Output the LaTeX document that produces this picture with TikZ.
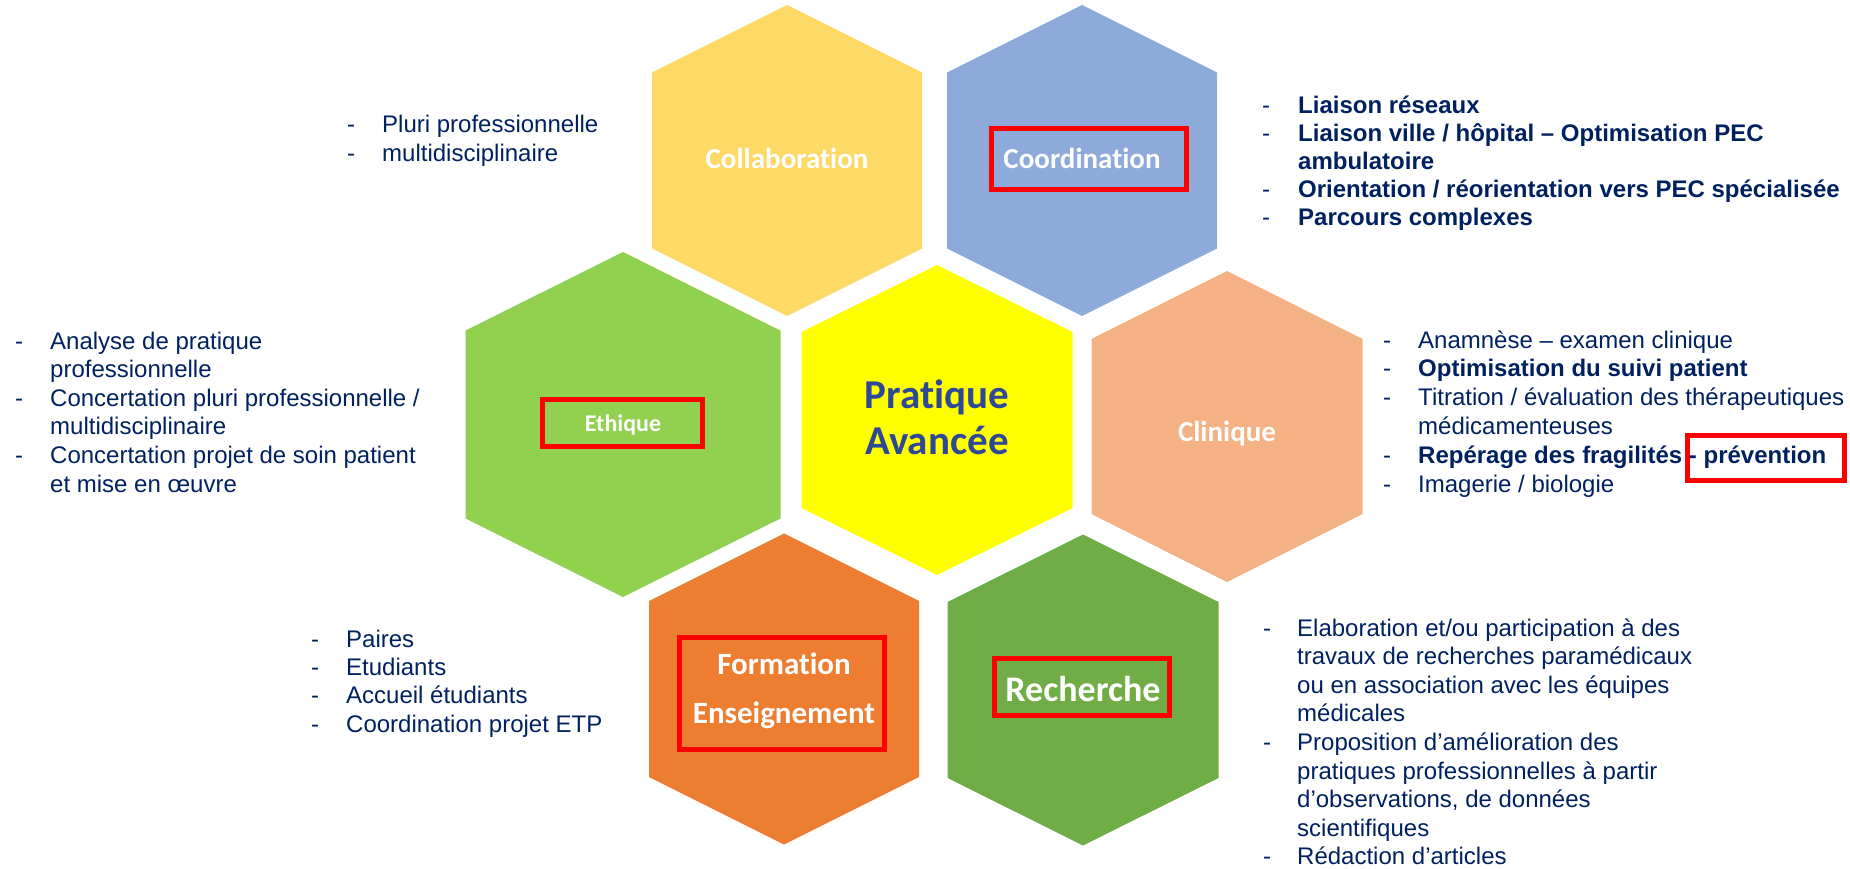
\documentclass[tikz,border=0pt]{standalone}
\usepackage{fontspec}
\setmainfont{Liberation Sans}
\newfontfamily\calibri[Ligatures=NoCommon]{Carlito}
\definecolor{txtnavy}{RGB}{0,32,96}
\definecolor{pablue}{RGB}{47,72,150}
\definecolor{hcollab}{RGB}{255,217,102}
\definecolor{hcoord}{RGB}{142,170,219}
\definecolor{hethique}{RGB}{146,208,80}
\definecolor{hcenter}{RGB}{255,255,0}
\definecolor{hclin}{RGB}{244,177,131}
\definecolor{hform}{RGB}{237,125,49}
\definecolor{hrech}{RGB}{112,173,71}
\definecolor{boxred}{RGB}{255,0,0}
\newcommand\hexa[6]{\fill[#6] (#1,#2-#4) -- (#1+#3,#2-#5) -- (#1+#3,#2+#5) -- (#1,#2+#4) -- (#1-#3,#2+#5) -- (#1-#3,#2-#5) -- cycle;}
\tikzset{
  hexlabel/.style={anchor=base, inner sep=0, text=white, font=\calibri\bfseries\fontsize{#1}{#1}\selectfont},
  listblock/.style={anchor=base west, inner sep=0, text=txtnavy, font=\fontsize{24}{#1}\selectfont},
  redbox/.style={draw=boxred, line width=5pt}
}
\begin{document}
\begin{tikzpicture}[x=1pt,y=-1pt]
\useasboundingbox (0,0) rectangle (1850,869);
% hexagons
\hexa{787}{160.5}{135}{155.5}{88}{hcollab}
\hexa{1082}{160.5}{135}{155.5}{88}{hcoord}
\hexa{623}{424.5}{157.5}{172.5}{94}{hethique}
\hexa{937}{420}{135.5}{155}{88}{hcenter}
\hexa{1227}{426.5}{135.5}{155.5}{87.5}{hclin}
\hexa{784}{689}{135}{155.5}{88}{hform}
\hexa{1083}{690}{135.5}{155.5}{88}{hrech}
% hexagon labels
\node[hexlabel=29] (collab) at (787,169) {Collaboration};
\node[hexlabel=29] (coord) at (1082,169) {Coordination};
\node[hexlabel=29] (clin) at (1227,441) {Clinique};
\node[hexlabel=24] (ethique) at (623,431) {Ethique};
\node[hexlabel=36] (rech) at (1083,701) {Recherche};
\node[anchor=base, inner sep=0, text=white, font=\calibri\bfseries\fontsize{31}{49}\selectfont] (form) at (784,674) {\begin{tabular}[t]{@{}c@{}}Formation\\Enseignement\end{tabular}};
\node[anchor=base, inner sep=0, text=pablue, font=\calibri\bfseries\fontsize{41}{46}\selectfont] (pa) at (937,408) {\begin{tabular}[t]{@{}c@{}}Pratique\\Avancée\end{tabular}};
% red boxes
\draw[redbox] (991.5,128.5) rectangle (1186.5,189.5);
\draw[redbox] (542.5,399.5) rectangle (702.5,446.5);
\draw[redbox] (679.5,637.5) rectangle (884.5,749.5);
\draw[redbox] (994.5,658.5) rectangle (1169.5,715.5);
\draw[redbox] (1687.5,435.5) rectangle (1844.5,480.5);
% lists
\node[listblock=28.6] (lcollab) at (347,133) {\begin{tabular}[t]{@{}p{35pt}@{}l@{}}
-&Pluri professionnelle\\
-&multidisciplinaire\end{tabular}};
\node[listblock=28] (lcoord) at (1262,114) {\begin{tabular}[t]{@{}p{36pt}@{}l@{}}
-&\textbf{Liaison réseaux}\\
-&\textbf{Liaison ville / hôpital -- Optimisation PEC}\\
&\textbf{ambulatoire}\\
-&\textbf{Orientation / réorientation vers PEC spécialisée}\\
-&\textbf{Parcours complexes}\end{tabular}};
\node[listblock=28.6] (lethique) at (15,349) {\begin{tabular}[t]{@{}p{35pt}@{}l@{}}
-&Analyse de pratique\\
&professionnelle\\
-&Concertation pluri professionnelle /\\
&multidisciplinaire\\
-&Concertation projet de soin patient\\
&et mise en œuvre\end{tabular}};
\node[listblock=28.8] (lclin) at (1383,348) {\begin{tabular}[t]{@{}p{35pt}@{}l@{}}
-&Anamnèse -- examen clinique\\
-&\textbf{Optimisation du suivi patient}\\
-&Titration / évaluation des thérapeutiques\\
&médicamenteuses\\
-&\textbf{Repérage des fragilités - prévention}\\
-&Imagerie / biologie\end{tabular}};
\node[listblock=28.4] (lform) at (311,647) {\begin{tabular}[t]{@{}p{35pt}@{}l@{}}
-&Paires\\
-&Etudiants\\
-&Accueil étudiants\\
-&Coordination projet ETP\end{tabular}};
\node[listblock=28.6] (lrech) at (1263,636) {\begin{tabular}[t]{@{}p{34pt}@{}l@{}}
-&Elaboration et/ou participation à des\\
&travaux de recherches paramédicaux\\
&ou en association avec les équipes\\
&médicales\\
-&Proposition d’amélioration des\\
&pratiques professionnelles à partir\\
&d’observations, de données\\
&scientifiques\\
-&Rédaction d’articles\end{tabular}};
\end{tikzpicture}
\end{document}
